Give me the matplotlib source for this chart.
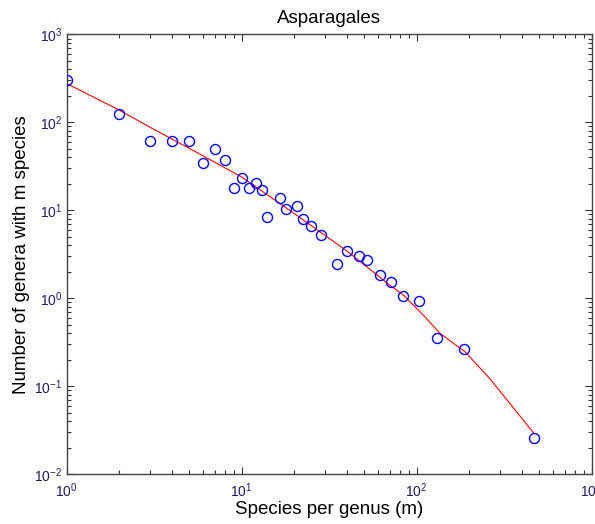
import matplotlib
matplotlib.use("Agg")
import matplotlib.pyplot as plt
from matplotlib.ticker import LogLocator, NullFormatter

plt.rcParams['font.family'] = ['Liberation Sans', 'DejaVu Sans']
plt.rcParams['mathtext.fontset'] = 'custom'
plt.rcParams['mathtext.rm'] = 'Liberation Sans'
plt.rcParams['mathtext.it'] = 'Liberation Sans'

title = "Asparagales"
xlabel = "Species per genus (m)"
ylabel = "Number of genera with m species"

# observed points
species_m = [1, 2, 3, 4, 5, 6, 7, 8, 9, 10, 11, 12, 13, 14, 16.6, 18, 20.6,
             22.3, 25, 28.4, 35, 40, 46.8, 52, 61.7, 71, 84, 103, 131, 187, 470]
genera_n = [300, 125, 61, 61, 61, 35, 49.7, 37.6, 18, 23.1, 18, 20.4, 17.1, 8.4,
            13.9, 10.3, 11.1, 8.0, 6.6, 5.2, 2.43, 3.45, 3.0, 2.7, 1.83, 1.55,
            1.07, 0.93, 0.351, 0.263, 0.0257]

# fitted curve
fit_x = [1, 2, 3, 5, 10, 20, 40, 70, 84, 109, 136, 189, 262, 373, 464]
fit_y = [277, 138, 88, 51, 24, 9.2, 3.45, 1.42, 1.09, 0.646, 0.40, 0.247,
         0.122, 0.051, 0.0297]

fig = plt.figure(figsize=(5.95, 5.24), dpi=100)
ax = fig.add_axes([0.112, 0.0948, 0.8825, 0.8394])

ax.plot(fit_x, fit_y, color='#ff0000', lw=0.8, zorder=2)
ax.plot(species_m, genera_n, linestyle='none', marker='o', markersize=7.2,
        markerfacecolor='none', markeredgecolor='#0000ff', markeredgewidth=1.0, zorder=3)

ax.set_xscale('log')
ax.set_yscale('log')
ax.set_xlim(1, 1000)
ax.set_ylim(0.01, 1000)

ax.xaxis.set_major_locator(LogLocator(base=10, numticks=10))
ax.yaxis.set_major_locator(LogLocator(base=10, numticks=10))
ax.xaxis.set_minor_locator(LogLocator(base=10, subs=range(2, 10), numticks=20))
ax.yaxis.set_minor_locator(LogLocator(base=10, subs=range(2, 10), numticks=20))
ax.xaxis.set_minor_formatter(NullFormatter())
ax.yaxis.set_minor_formatter(NullFormatter())

tick_color = '#201a60'
ax.tick_params(which='both', direction='in', top=True, right=True,
               color='#333333', labelcolor=tick_color, labelsize=10)
ax.tick_params(which='major', length=5, width=0.8)
ax.tick_params(which='minor', length=3, width=0.8)
ax.tick_params(axis='x', pad=5)
ax.tick_params(axis='y', pad=3)
for sp in ax.spines.values():
    sp.set_color('#444444')
    sp.set_linewidth(1.0)

ax.set_title(title, fontsize=13.5, pad=8)
ax.set_xlabel(xlabel, fontsize=13.5, labelpad=1)
ax.set_ylabel(ylabel, fontsize=13.5, labelpad=3)

fig.savefig('out.png', dpi=100)
